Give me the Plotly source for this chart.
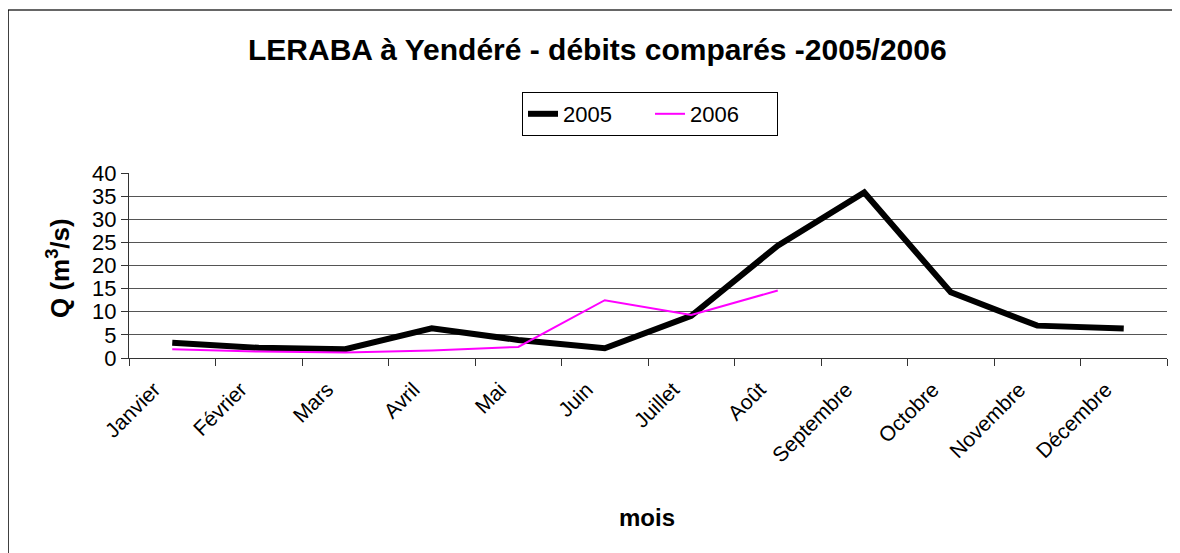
import plotly.graph_objects as go

months = ["Janvier", "Février", "Mars", "Avril", "Mai", "Juin", "Juillet", "Août",
          "Septembre", "Octobre", "Novembre", "Décembre"]
q2005 = [3.3, 2.2, 1.9, 6.4, 3.9, 2.1, 9.1, 24.3, 35.8, 14.2, 7.0, 6.4]
months2006 = ["Janvier", "Février", "Mars", "Avril", "Mai", "Juin", "Juillet", "Août"]
q2006 = [1.9, 1.4, 1.2, 1.6, 2.4, 12.5, 9.3, 14.6]
yticks = [0, 5, 10, 15, 20, 25, 30, 35, 40]

OFF = 8  # page body margin
W, H = 1180, 553
# plot area in screenshot coordinates
X0, X1, Y0, Y1 = 129, 1167, 173, 358
L, T = X0 - OFF, Y0 - OFF
R, B = W - (X1 - OFF), H - (Y1 - OFF)
pw, ph = W - L - R, H - T - B

def px(x):
    return (x - OFF - L) / pw

def py(y):
    return (H - B - (y - OFF)) / ph

fig = go.Figure()
fig.add_trace(go.Scatter(x=months, y=q2005, mode="lines", name="2005",
                         line=dict(color="black", width=6)))
fig.add_trace(go.Scatter(x=months2006, y=q2006, mode="lines", name="2006",
                         line=dict(color="#FF00FF", width=2)))

fig.update_layout(
    width=W, height=H,
    margin=dict(l=L, r=R, t=T, b=B, autoexpand=False),
    paper_bgcolor="white", plot_bgcolor="white",
    font=dict(family="Arial, Liberation Sans, sans-serif", color="black"),
    showlegend=True,
    legend=dict(orientation="h", x=px(522), y=py(92), xanchor="left", yanchor="top",
                bordercolor="black", borderwidth=1, font=dict(size=22),
                itemwidth=30, entrywidth=82, tracegroupgap=0),
    xaxis=dict(categoryorder="array", categoryarray=months, tickangle=-45,
               tickson="boundaries", ticks="outside", ticklen=7, tickcolor="#333",
               showline=True, linecolor="#333", linewidth=1, showgrid=False,
               tickfont=dict(size=21), ticklabelstandoff=10, ticklabelshift=-18,
               range=[-0.5, 11.5]),
    yaxis=dict(range=[0, 40], tickvals=yticks, ticks="outside", ticklen=7, tickcolor="#333",
               showline=True, linecolor="#333", linewidth=1, showgrid=True,
               gridcolor="#555", gridwidth=1, tickfont=dict(size=22), zeroline=False),
    annotations=[
        dict(text="<b>LERABA à Yendéré - débits comparés -2005/2006</b>", xref="paper", yref="paper",
             x=px(597), y=py(50), showarrow=False, font=dict(size=30), xanchor="center", yanchor="middle"),
        dict(text="<b>Q (m<sup>3</sup>/s)</b>", xref="paper", yref="paper", textangle=-90,
             x=px(58), y=py(268), showarrow=False, font=dict(size=26), xanchor="center", yanchor="middle"),
        dict(text="<b>mois</b>", xref="paper", yref="paper",
             x=px(647), y=py(517), showarrow=False, font=dict(size=24), xanchor="center", yanchor="middle"),
    ],
    shapes=[
        dict(type="line", xref="paper", yref="paper", x0=px(8), x1=px(1200), y0=py(10), y1=py(10),
             line=dict(color="#333", width=1.5)),
        dict(type="line", xref="paper", yref="paper", x0=px(8), x1=px(8), y0=py(10), y1=py(600),
             line=dict(color="black", width=1.5)),
    ],
)

fig.write_html("out.html")
